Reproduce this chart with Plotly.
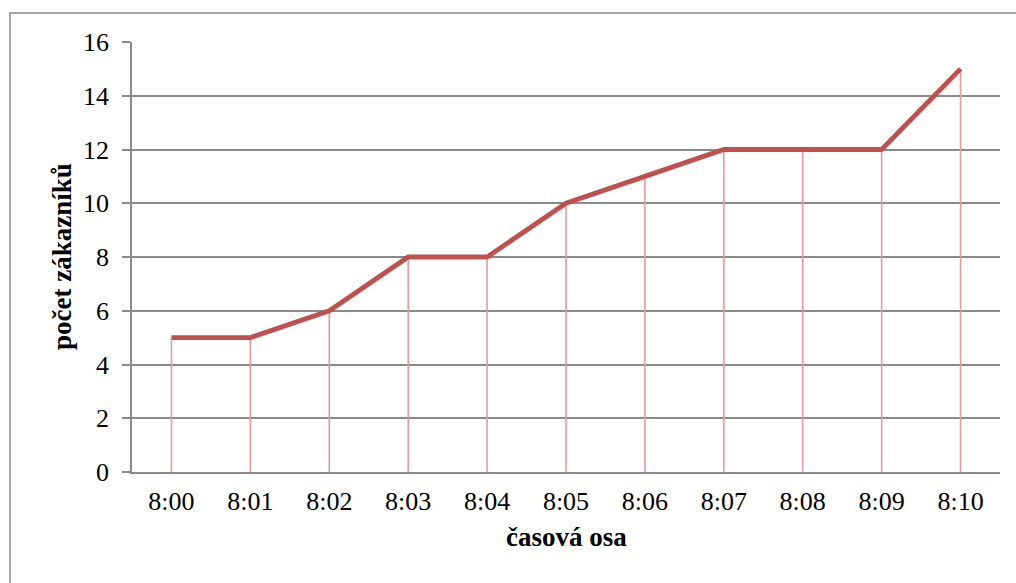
import plotly.graph_objects as go

times = ["8:00", "8:01", "8:02", "8:03", "8:04", "8:05", "8:06", "8:07", "8:08", "8:09", "8:10"]
customers = [5, 5, 6, 8, 8, 10, 11, 12, 12, 12, 15]
y_ticks = [0, 2, 4, 6, 8, 10, 12, 14, 16]

W, H = 1016, 583
L, R, T, B = 132, 16, 42, 111
pw, ph = W - L - R, H - T - B

def px_x(x):
    return (x - L) / pw

def px_y(y):
    return (H - B - y) / ph

FONT = "Liberation Serif"
GRAY = "#8a8a8a"

fig = go.Figure()

# drop lines from each point to the axis
fig.add_trace(go.Scatter(
    x=times, y=customers, mode="markers",
    marker=dict(size=0.1, opacity=0),
    error_y=dict(type="data", symmetric=False, array=[0] * len(customers),
                 arrayminus=customers, width=0, thickness=1.6, color="#e29c9c"),
    hoverinfo="skip", showlegend=False,
))

fig.add_trace(go.Scatter(
    x=times, y=customers, mode="lines",
    line=dict(color="#c0504d", width=4.8),
    showlegend=False,
))

fig.update_layout(
    width=W, height=H,
    margin=dict(l=L, r=R, t=T, b=B),
    paper_bgcolor="white", plot_bgcolor="white",
    font=dict(family=FONT, size=26, color="black"),
    xaxis=dict(
        type="category", range=[-0.5, len(times) - 0.5],
        showgrid=False, showline=True, linecolor=GRAY, linewidth=1.5,
        ticks="", ticklabelstandoff=5, tickfont=dict(family=FONT, size=26),
        zeroline=False, fixedrange=True,
    ),
    yaxis=dict(
        range=[0, 16], tickvals=y_ticks,
        showgrid=True, gridcolor=GRAY, gridwidth=1.5,
        showline=True, linecolor=GRAY, linewidth=1.5,
        ticks="outside", ticklen=8, tickcolor=GRAY, tickwidth=1.5,
        ticklabelstandoff=8, tickfont=dict(family=FONT, size=26),
        zeroline=False, fixedrange=True,
    ),
    annotations=[
        dict(text="<b>časová osa</b>", xref="paper", yref="paper",
             x=px_x(566), y=px_y(537), showarrow=False,
             font=dict(size=27, family=FONT), xanchor="center", yanchor="middle"),
        dict(text="<b>počet zákazníků</b>", xref="paper", yref="paper",
             x=px_x(62), y=px_y(257), showarrow=False, textangle=-90,
             font=dict(size=27, family=FONT), xanchor="center", yanchor="middle"),
    ],
    shapes=[
        dict(type="rect", xref="paper", yref="paper",
             x0=px_x(10), y0=px_y(620), x1=px_x(1040), y1=px_y(13),
             line=dict(color=GRAY, width=1.5), fillcolor="rgba(0,0,0,0)", layer="below"),
    ],
)

fig.write_html("out.html")
